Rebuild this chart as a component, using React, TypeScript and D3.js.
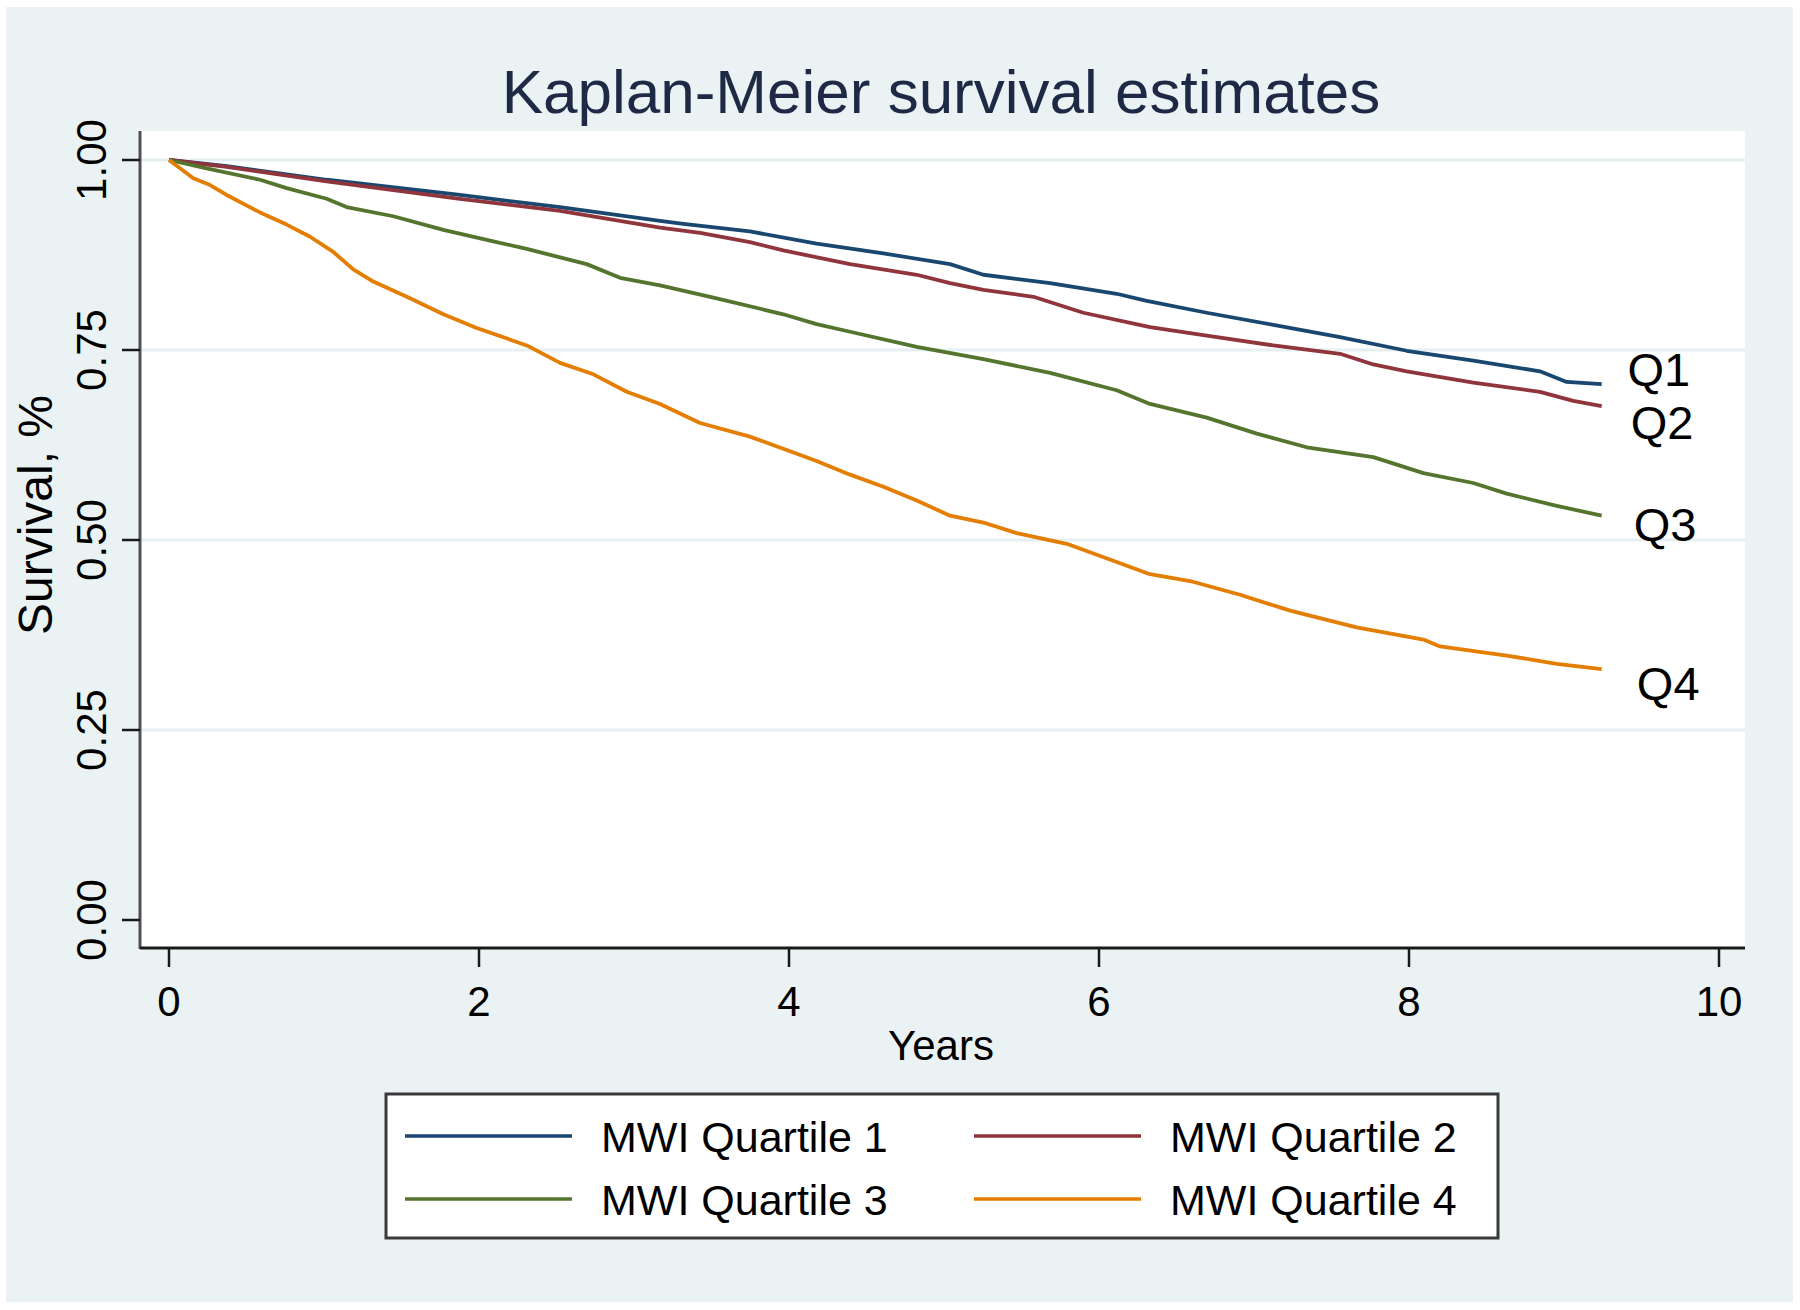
import React from "react";
import * as d3 from "d3";

const title = "Kaplan-Meier survival estimates";
const xTitle = "Years";
const yTitle = "Survival, %";
const xTicks = [0, 2, 4, 6, 8, 10];
const yTicks = [0, 0.25, 0.5, 0.75, 1];
const gridValues = [0.25, 0.5, 0.75, 1];

const seriesNames = ["MWI Quartile 1", "MWI Quartile 2", "MWI Quartile 3", "MWI Quartile 4"];
const seriesColors = ["#1a476f", "#90353b", "#55752f", "#e37e00"];

const q1Years = [0, 0.372, 1.017, 1.877, 2.523, 3.168, 3.318, 3.748, 4.178, 4.609, 5.039, 5.254, 5.684, 6.114, 6.3, 6.695, 7.125, 7.555, 7.985, 8.415, 8.845, 9.017, 9.243];
const q1Surv = [1.0, 0.992, 0.974, 0.954, 0.938, 0.92, 0.916, 0.906, 0.89, 0.877, 0.863, 0.849, 0.838, 0.824, 0.815, 0.799, 0.783, 0.767, 0.749, 0.736, 0.722, 0.708, 0.705];

const q2Years = [0, 0.372, 1.017, 1.877, 2.523, 3.168, 3.426, 3.748, 3.963, 4.394, 4.824, 5.039, 5.254, 5.577, 5.899, 6.329, 6.695, 7.125, 7.555, 7.77, 7.985, 8.415, 8.845, 9.06, 9.243];
const q2Surv = [1.0, 0.991, 0.972, 0.949, 0.933, 0.911, 0.904, 0.892, 0.881, 0.863, 0.849, 0.838, 0.829, 0.82, 0.799, 0.78, 0.769, 0.756, 0.745, 0.731, 0.722, 0.707, 0.695, 0.683, 0.676];

const q3Years = [0, 0.265, 0.587, 0.759, 1.017, 1.146, 1.447, 1.77, 2.092, 2.308, 2.695, 2.91, 3.168, 3.533, 3.963, 4.178, 4.394, 4.824, 5.254, 5.684, 6.114, 6.329, 6.695, 7.018, 7.34, 7.77, 8.093, 8.415, 8.63, 8.953, 9.243];
const q3Surv = [1.0, 0.988, 0.974, 0.963, 0.949, 0.938, 0.926, 0.908, 0.893, 0.883, 0.863, 0.845, 0.835, 0.818, 0.797, 0.784, 0.774, 0.754, 0.738, 0.72, 0.697, 0.679, 0.661, 0.64, 0.622, 0.609, 0.588, 0.575, 0.561, 0.545, 0.532];

const q4Years = [0, 0.157, 0.265, 0.372, 0.587, 0.759, 0.91, 1.06, 1.189, 1.318, 1.555, 1.77, 1.985, 2.308, 2.523, 2.738, 2.953, 3.168, 3.426, 3.748, 3.963, 4.178, 4.394, 4.609, 4.824, 5.039, 5.254, 5.469, 5.792, 6.114, 6.329, 6.588, 6.91, 7.233, 7.662, 8.093, 8.2, 8.63, 8.953, 9.243];
const q4Surv = [1.0, 0.976, 0.967, 0.954, 0.931, 0.915, 0.899, 0.879, 0.856, 0.84, 0.818, 0.797, 0.779, 0.756, 0.733, 0.718, 0.695, 0.679, 0.654, 0.636, 0.62, 0.604, 0.586, 0.57, 0.552, 0.532, 0.523, 0.509, 0.495, 0.471, 0.455, 0.446, 0.428, 0.407, 0.385, 0.369, 0.36, 0.348, 0.337, 0.33];

const endLabels = ["Q1", "Q2", "Q3", "Q4"];
const endLabelYears = [9.41, 9.43, 9.45, 9.47];
const endLabelSurv = [0.724, 0.654, 0.52, 0.311];

const FONT = "'Liberation Sans', Arial, Helvetica, sans-serif";

export default function App() {
  const W = 1800;
  const H = 1310;
  const plot = { left: 140, right: 1745, top: 131, bottom: 948 };
  const x = d3.scaleLinear().domain([0, 10]).range([169, 1719]);
  const y = d3.scaleLinear().domain([0, 1]).range([920, 160]);

  const allYears = [q1Years, q2Years, q3Years, q4Years];
  const allSurv = [q1Surv, q2Surv, q3Surv, q4Surv];
  const line = d3
    .line<[number, number]>()
    .x((d) => x(d[0]))
    .y((d) => y(d[1]))
    .curve(d3.curveLinear);

  const legend = { x: 386, y: 1094, w: 1112, h: 144 };
  const legendCols = [405, 974];
  const legendRows = [1136, 1199];

  return (
    <svg
      width={W}
      height={H}
      style={{ position: "absolute", left: 0, top: 0, background: "#ffffff" }}
      fontFamily={FONT}
    >
      <rect x={6} y={7} width={1787} height={1295} fill="#eaf2f3" />
      <rect
        x={plot.left}
        y={plot.top}
        width={plot.right - plot.left}
        height={plot.bottom - plot.top}
        fill="#ffffff"
      />
      {gridValues.map((v) => (
        <line
          key={"g" + v}
          x1={plot.left}
          x2={plot.right}
          y1={y(v)}
          y2={y(v)}
          stroke="#e6eff2"
          strokeWidth={3}
        />
      ))}

      {/* series */}
      {allYears.map((ys, i) => (
        <path
          key={"s" + i}
          d={line(ys.map((t, j) => [t, allSurv[i][j]] as [number, number])) || ""}
          fill="none"
          stroke={seriesColors[i]}
          strokeWidth={3.8}
          strokeLinejoin="round"
        />
      ))}

      {/* axes */}
      <line x1={plot.left} x2={plot.left} y1={plot.top} y2={plot.bottom + 1} stroke="#505050" strokeWidth={3} />
      <line x1={plot.left} x2={plot.right} y1={plot.bottom} y2={plot.bottom} stroke="#1a1a1a" strokeWidth={3} />
      {yTicks.map((v) => (
        <g key={"yt" + v}>
          <line x1={122} x2={plot.left} y1={y(v)} y2={y(v)} stroke="#1a1a1a" strokeWidth={2.5} />
          <text
            transform={`translate(106,${y(v)}) rotate(-90)`}
            textAnchor="middle"
            fontSize={42}
            fill="#000"
          >
            {d3.format(".2f")(v)}
          </text>
        </g>
      ))}
      {xTicks.map((v) => (
        <g key={"xt" + v}>
          <line x1={x(v)} x2={x(v)} y1={plot.bottom} y2={967} stroke="#1a1a1a" strokeWidth={2.5} />
          <text x={x(v)} y={1016} textAnchor="middle" fontSize={42} fill="#000">
            {v}
          </text>
        </g>
      ))}
      <text x={941} y={1060} textAnchor="middle" fontSize={42} fill="#000">
        {xTitle}
      </text>
      <text transform={`translate(52,515) rotate(-90)`} textAnchor="middle" fontSize={48} fill="#000">
        {yTitle}
      </text>
      <text x={941} y={113} textAnchor="middle" fontSize={62} fill="#1e2a45">
        {title}
      </text>

      {/* end labels */}
      {endLabels.map((lab, i) => (
        <text
          key={lab}
          x={x(endLabelYears[i])}
          y={y(endLabelSurv[i])}
          dominantBaseline="central"
          fontSize={47}
          fill="#000"
        >
          {lab}
        </text>
      ))}

      {/* legend */}
      <rect x={legend.x} y={legend.y} width={legend.w} height={legend.h} fill="#ffffff" stroke="#3a3a3a" strokeWidth={3} />
      {seriesNames.map((name, i) => {
        const cx = legendCols[i % 2];
        const cy = legendRows[Math.floor(i / 2)];
        return (
          <g key={name}>
            <line x1={cx} x2={cx + 167} y1={cy} y2={cy} stroke={seriesColors[i]} strokeWidth={3.6} />
            <text x={cx + 196} y={cy + 16} fontSize={43} fill="#000">
              {name}
            </text>
          </g>
        );
      })}
    </svg>
  );
}
